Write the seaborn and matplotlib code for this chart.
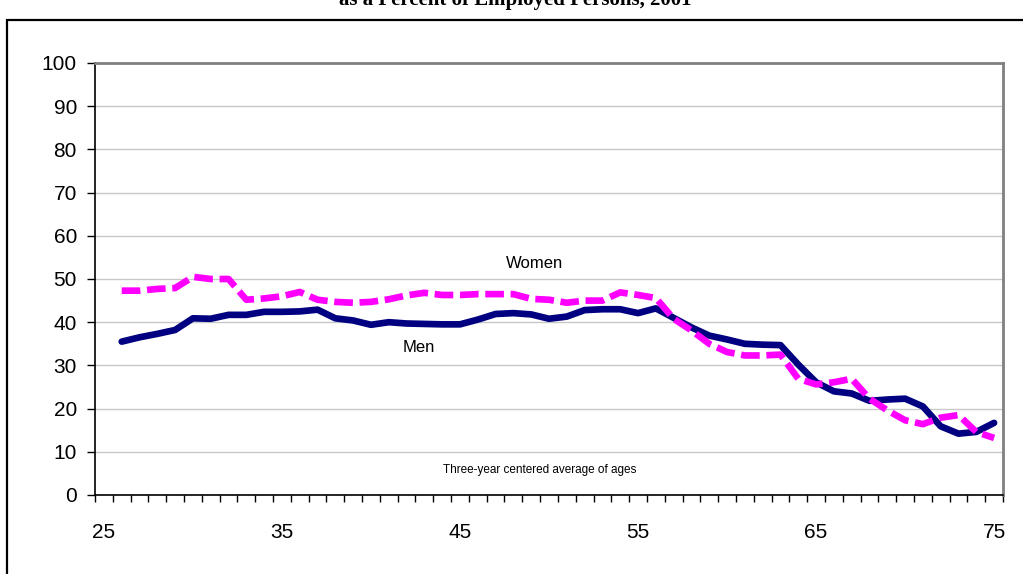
import numpy as np
import pandas as pd
import matplotlib
matplotlib.use('Agg')
import matplotlib.pyplot as plt
import seaborn as sns
from matplotlib.patches import Rectangle
from matplotlib.ticker import MultipleLocator, FixedLocator

# data (three-year centred averages, ages 26-75)
ages = list(range(26, 76))
men = [35.5, 36.5, 37.3, 38.2, 40.9, 40.8, 41.7, 41.7, 42.4, 42.4,
       42.5, 42.9, 40.9, 40.4, 39.4, 40.0, 39.7, 39.6, 39.5, 39.5,
       40.6, 41.9, 42.1, 41.8, 40.8, 41.3, 42.8, 43.0, 43.0, 42.1,
       43.2, 41.0, 38.8, 36.9, 36.0, 35.0, 34.8, 34.7, 30.2, 26.1,
       24.0, 23.5, 21.8, 22.1, 22.3, 20.5, 15.9, 14.2, 14.6, 16.7]
women = [47.3, 47.3, 47.7, 47.9, 50.5, 50.0, 50.0, 45.2, 45.5, 46.0,
         47.0, 45.2, 44.7, 44.5, 44.7, 45.3, 46.2, 46.8, 46.3, 46.3,
         46.5, 46.5, 46.5, 45.4, 45.2, 44.5, 45.0, 45.0, 46.9, 46.3,
         45.6, 40.8, 38.1, 35.0, 33.1, 32.3, 32.3, 32.5, 26.9, 25.6,
         26.1, 26.9, 22.3, 19.6, 17.3, 16.4, 17.9, 18.5, 14.6, 13.2]
x_labels = [25, 35, 45, 55, 65, 75]

df = pd.DataFrame({'age': ages, 'Men': men, 'Women': women})

sns.set_style('white')
plt.rcParams['font.family'] = ['Liberation Sans', 'DejaVu Sans']
plt.rcParams['text.color'] = 'black'

fig = plt.figure(figsize=(10.23, 5.74), dpi=100)
ax = fig.add_axes([95 / 1023, 1 - 495 / 574, 908 / 1023, 432 / 574])

sns.lineplot(data=df, x='age', y='Men', ax=ax, color='#000080', lw=4.8,
             solid_capstyle='round', solid_joinstyle='round')
sns.lineplot(data=df, x='age', y='Women', ax=ax, color='#FF00FF', lw=4.8,
             dashes=False)
ax.lines[-1].set_dashes((2.8, 1.0))
ax.lines[-1].set_dash_capstyle('butt')

ax.set_xlim(24.5, 75.5)
ax.set_ylim(0, 100)
ax.set_xlabel('')
ax.set_ylabel('')

ax.yaxis.set_major_locator(MultipleLocator(10))
ax.xaxis.set_major_locator(FixedLocator(x_labels))
ax.xaxis.set_minor_locator(FixedLocator(np.arange(24.5, 76, 1)))
ax.tick_params(axis='y', which='major', direction='out', length=6, width=1,
               color='black', labelcolor='black', labelsize=15, pad=7,
               left=True)
ax.tick_params(axis='x', which='major', length=0, labelsize=15, pad=20,
               labelcolor='black', bottom=True)
ax.tick_params(axis='x', which='minor', direction='out', length=5, width=1,
               color='black', bottom=True)

ax.grid(axis='y', color='#c8c8c8', lw=1)
ax.set_axisbelow(True)
for side in ['left', 'bottom']:
    ax.spines[side].set_color('black')
    ax.spines[side].set_linewidth(1.2)
for side in ['top', 'right']:
    ax.spines[side].set_color('#808080')
    ax.spines[side].set_linewidth(2)

ax.text(49.2, 53.5, 'Women', fontsize=12, ha='center', va='center')
ax.text(42.7, 34.2, 'Men', fontsize=12, ha='center', va='center')
ax.text(49.5, 5.9, 'Three-year centered average of ages', fontsize=8.5,
        ha='center', va='center')

# cropped chart title and outer frame
fig.text(515 / 1023, 1 - 5 / 574, 'as a Percent of Employed Persons, 2001',
         family=['Liberation Serif', 'DejaVu Serif'], fontweight='bold',
         fontsize=15, ha='center', va='baseline')
fig.patches.append(Rectangle((7 / 1023, -0.2), 1.2, 1.2 - 20 / 574,
                             transform=fig.transFigure, fill=False,
                             edgecolor='black', lw=1.6))

fig.savefig('out.png', dpi=100)
